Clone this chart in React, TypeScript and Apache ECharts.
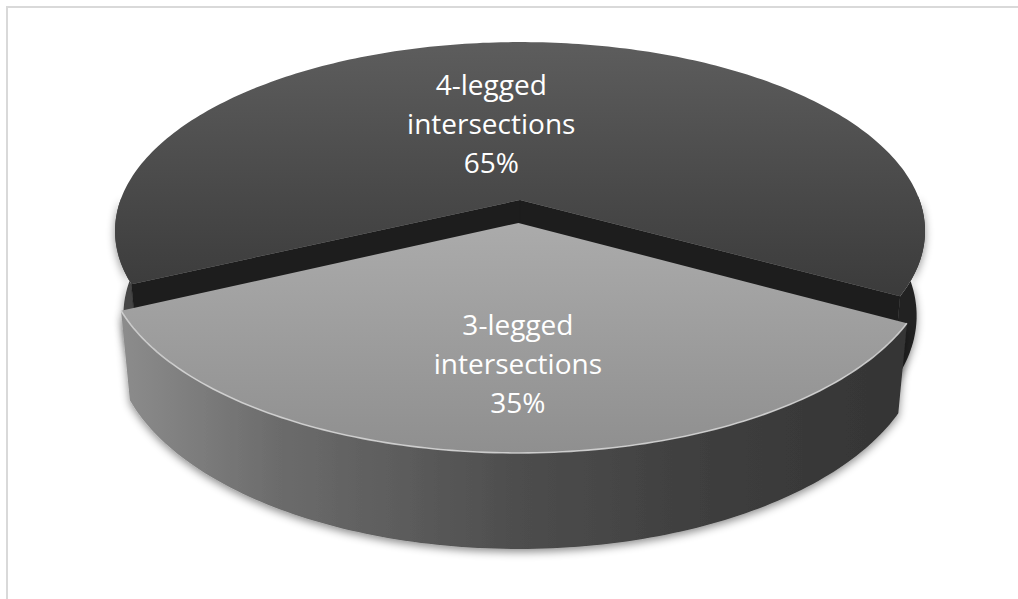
import React, { useEffect, useRef } from "react";
import * as echarts from "echarts";

// ---- data ----
const categories = ["4-legged intersections", "3-legged intersections"];
const values = [65, 35];
const explodeFlags = [0, 1];

// ---- layout / projection constants ----
const RAD = Math.PI / 180;
const CX = 520;
const CY = 200;
const SCALE = 399.5;
const TILT = 27.4 * RAD;
const SN = Math.sin(TILT);
const CS = Math.cos(TILT);
const DIST = 5.41;
const THICK = 0.241;
const EXPLODE = 0.1225;
const START_ANGLE = 61.2;
const LABEL_RADIUS = [0.45, 0.65];
const LABEL_SHIFT_X = [-34, 9];

const sliceStyles = [
  {
    top: ["#5d5d5d", "#3b3b3b"],
    wall: [
      [0, "#454545"],
      [1, "#222222"],
    ],
    cut: "#1d1d1d",
    rim: null as string | null,
  },
  {
    top: ["#ababab", "#8f8f8f"],
    wall: [
      [0, "#8e8e8e"],
      [0.2, "#6c6c6c"],
      [0.5, "#4d4d4d"],
      [0.75, "#3d3d3d"],
      [1, "#333333"],
    ],
    cut: "#555555",
    rim: "rgba(215,215,215,0.85)",
  },
];

function project(x: number, d: number, z: number): number[] {
  const v = d * SN - z * CS;
  const w = d * CS + z * SN;
  const s = 1 / (1 - w / DIST);
  return [CX + SCALE * x * s, CY + SCALE * v * s];
}

function visibleRuns(a0: number, a1: number): number[][] {
  const runs: number[][] = [];
  let cur: number[] | null = null;
  const n = Math.max(2, Math.ceil(Math.abs(a1 - a0)));
  for (let i = 0; i <= n; i++) {
    const a = a0 + ((a1 - a0) * i) / n;
    const vis = Math.cos(a * RAD) > -0.03;
    if (vis) {
      if (!cur) {
        cur = [];
        runs.push(cur);
      }
      cur.push(a);
    } else cur = null;
  }
  return runs;
}

function arcAngles(a0: number, a1: number): number[] {
  const n = Math.max(2, Math.ceil(Math.abs(a1 - a0)));
  const out: number[] = [];
  for (let i = 0; i <= n; i++) out.push(a0 + ((a1 - a0) * i) / n);
  return out;
}

export default function App() {
  const ref = useRef<HTMLDivElement>(null);

  useEffect(() => {
    if (!ref.current) return;
    const chart = echarts.init(ref.current, null, { renderer: "svg" });

    const sum = values.reduce((a, b) => a + b, 0);
    let cum = 0;
    const slices = values.map((v, i) => {
      const a0 = START_ANGLE + (360 * cum) / sum;
      cum += v;
      const a1 = START_ANGLE + (360 * cum) / sum;
      return [a0, a1, explodeFlags[i], i, v];
    });
    // paint back slices first
    slices.sort(
      (p, q) =>
        Math.cos(((p[0] + p[1]) / 2) * RAD) - Math.cos(((q[0] + q[1]) / 2) * RAD)
    );

    const renderItem = (_params: any, api: any) => {
      const a0 = api.value(0);
      const a1 = api.value(1);
      const ex = api.value(2);
      const idx = api.value(3);
      const val = api.value(4);
      const st = sliceStyles[idx];
      const midDeg = (a0 + a1) / 2;
      const mid = midDeg * RAD;
      const ox = ex * EXPLODE * Math.sin(mid);
      const od = ex * EXPLODE * Math.cos(mid);
      const P = (a: number, r: number, z: number) =>
        project(ox + r * Math.sin(a * RAD), od + r * Math.cos(a * RAD), z);

      const children: any[] = [];

      // outer walls (front-facing parts)
      const wallFill = new echarts.graphic.LinearGradient(
        CX - SCALE * 1.02,
        0,
        CX + SCALE * 1.02,
        0,
        st.wall.map((s: any) => ({ offset: s[0], color: s[1] })),
        true
      );
      visibleRuns(a0, a1).forEach((run) => {
        if (run.length < 2) return;
        const pts = run
          .map((a) => P(a, 1, 0))
          .concat(
            run
              .slice()
              .reverse()
              .map((a) => P(a, 1, -THICK))
          );
        children.push({
          type: "polygon",
          shape: { points: pts },
          style: {
            fill: wallFill,
            shadowBlur: 9,
            shadowColor: "rgba(0,0,0,0.45)",
            shadowOffsetY: 3,
          },
        });
      });

      // cut faces facing the viewer
      const faces = [
        { a: a0, nx: -Math.cos(a0 * RAD), nd: Math.sin(a0 * RAD) },
        { a: a1, nx: Math.cos(a1 * RAD), nd: -Math.sin(a1 * RAD) },
      ];
      faces.forEach((f) => {
        if (f.nd <= 0) return;
        children.push({
          type: "polygon",
          shape: {
            points: [P(0, 0, 0), P(f.a, 1, 0), P(f.a, 1, -THICK), P(0, 0, -THICK)],
          },
          style: { fill: st.cut, stroke: st.cut, lineWidth: 0.5 },
        });
      });

      // top face
      const arc = arcAngles(a0, a1);
      const topPts = [P(0, 0, 0)].concat(arc.map((a) => P(a, 1, 0)));
      children.push({
        type: "polygon",
        shape: { points: topPts },
        style: {
          fill: new echarts.graphic.LinearGradient(0, 0, 0, 1, [
            { offset: 0, color: st.top[0] },
            { offset: 1, color: st.top[1] },
          ]),
        },
      });

      // rim highlight
      if (st.rim) {
        const vis = visibleRuns(a0, a1);
        vis.forEach((run) => {
          children.push({
            type: "polyline",
            shape: { points: run.map((a) => P(a, 1, 0)) },
            style: { stroke: st.rim, lineWidth: 1.6, fill: null },
          });
        });
      }

      // label
      const lp = P(midDeg, LABEL_RADIUS[idx], 0);
      const pct = Math.round((val / sum) * 100) + "%";
      children.push({
        type: "text",
        x: lp[0] + LABEL_SHIFT_X[idx],
        y: lp[1],
        style: {
          text: categories[idx].split(" ").join("\n") + "\n" + pct,
          fill: "#ffffff",
          font: '28px "Open Sans", sans-serif',
          align: "center",
          verticalAlign: "middle",
          lineHeight: 39,
        },
      });

      return { type: "group", children };
    };

    chart.setOption({
      animation: false,
      backgroundColor: "#ffffff",
      graphic: [
        {
          type: "rect",
          silent: true,
          shape: { x: 7, y: 7, width: 1100, height: 700 },
          style: { fill: "rgba(0,0,0,0)", stroke: "#d9d9d9", lineWidth: 2 },
        },
      ],
      series: [
        {
          type: "custom",
          coordinateSystem: "none",
          silent: true,
          renderItem,
          data: slices,
        },
      ],
    });

    return () => chart.dispose();
  }, []);

  return (
    <div
      ref={ref}
      style={{ position: "absolute", left: 0, top: 0, width: 1018, height: 599 }}
    />
  );
}
